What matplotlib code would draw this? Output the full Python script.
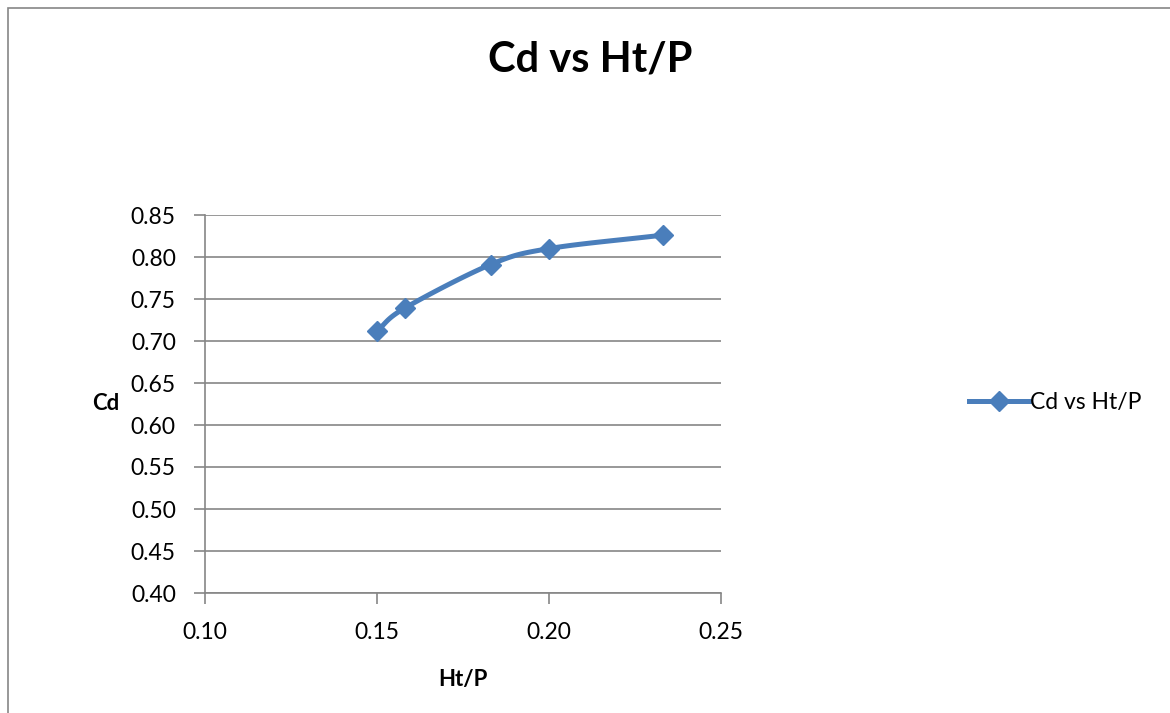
import matplotlib.pyplot as plt
import numpy as np
from matplotlib.patches import Rectangle

# data
ht_p = [0.150, 0.158, 0.183, 0.200, 0.233]
cd = [0.712, 0.739, 0.791, 0.810, 0.826]

xticks = [0.10, 0.15, 0.20, 0.25]
yticks = [0.40, 0.45, 0.50, 0.55, 0.60, 0.65, 0.70, 0.75, 0.80, 0.85]

blue = '#4A7EBB'
grey = '#868686'
plt.rcParams['font.family'] = ['Lato', 'DejaVu Sans']


def smooth(x, y, n=30):
    # catmull-rom style curve through the points (like excel's smoothed line)
    x = np.asarray(x, float)
    y = np.asarray(y, float)
    px = np.concatenate([[2 * x[0] - x[1]], x, [2 * x[-1] - x[-2]]])
    py = np.concatenate([[2 * y[0] - y[1]], y, [2 * y[-1] - y[-2]]])
    xs, ys = [], []
    t = np.linspace(0, 1, n)
    for i in range(1, len(px) - 2):
        for p, out in ((px, xs), (py, ys)):
            p0, p1, p2, p3 = p[i - 1], p[i], p[i + 1], p[i + 2]
            b1 = p1 + (p2 - p0) / 6
            b2 = p2 - (p3 - p1) / 6
            out.extend((1 - t) ** 3 * p1 + 3 * (1 - t) ** 2 * t * b1 + 3 * (1 - t) * t ** 2 * b2 + t ** 3 * p2)
    return xs, ys


fig = plt.figure(figsize=(11.7, 7.13), dpi=100)
fig.patches.append(Rectangle((8 / 1170, -0.1), 1.2, 1 - 8 / 713 + 0.1, transform=fig.transFigure,
                             fill=False, edgecolor=grey, linewidth=1.2))

ax = fig.add_axes([205 / 1170, 1 - 593 / 713, 516 / 1170, 378 / 713])
sx, sy = smooth(ht_p, cd)
ax.plot(sx, sy, color=blue, linewidth=3.6, solid_capstyle='round', zorder=3)
ax.plot(ht_p, cd, linestyle='none', marker='D', markersize=10.5, color=blue, zorder=4)
# legend proxy
ax.plot([], [], color=blue, linewidth=3.6, marker='D', markersize=10.5, label='Cd vs Ht/P')

ax.set_xlim(0.10, 0.25)
ax.set_ylim(0.40, 0.85)
ax.set_xticks(xticks)
ax.set_yticks(yticks)
ax.set_xticklabels(['%.2f' % v for v in xticks])
ax.set_yticklabels(['%.2f' % v for v in yticks])
ax.grid(axis='y', color=grey, linewidth=1.2)
ax.set_axisbelow(True)
for s in ['top', 'right']:
    ax.spines[s].set_visible(False)
for s in ['left', 'bottom']:
    ax.spines[s].set_color(grey)
    ax.spines[s].set_linewidth(1.2)
ax.tick_params(axis='both', colors=grey, labelcolor='black', labelsize=16.5, length=8, width=1.2)
ax.tick_params(axis='x', pad=13)
ax.tick_params(axis='y', pad=13)

ax.set_xlabel('Ht/P', fontsize=16, fontweight='bold')
ax.set_ylabel('Cd', fontsize=16, fontweight='bold', rotation=0, va='center', ha='center')
ax.xaxis.set_label_coords(0.5, -0.201)
ax.yaxis.set_label_coords(-0.192, 0.5)

fig.text(590 / 1170, 1 - 60 / 713, 'Cd vs Ht/P', fontsize=30, fontweight='bold', ha='center', va='center')

fig.legend(loc='center left', bbox_to_anchor=(960 / 1170, 1 - 403 / 713), frameon=False,
           fontsize=16.5, handlelength=2.6, handletextpad=0.05, borderaxespad=0)

fig.savefig('out.png', dpi=100)
